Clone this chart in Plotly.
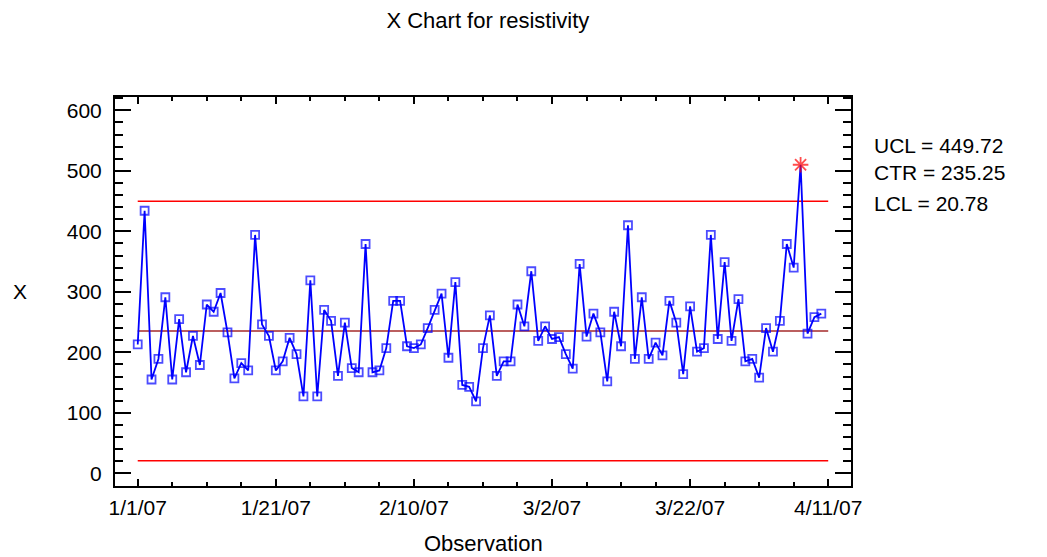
import pandas as pd
import plotly.graph_objects as go

start = pd.Timestamp("2007-01-01")
values = [213, 434, 155, 189, 291, 155, 255, 167, 227, 179, 279, 267, 298, 233, 157, 182, 170,
          394, 246, 227, 170, 185, 224, 197, 127, 319, 127, 270, 252, 161, 249, 174, 167,
          379, 167, 170, 207, 285, 285, 210, 207, 213, 240, 270, 297, 191, 316, 146, 143,
          119, 207, 261, 161, 185, 185, 279, 243, 334, 219, 243, 222, 225, 197, 173, 346, 226,
          264, 233, 152, 267, 210, 410, 189, 291, 189, 216, 195, 285, 249, 164, 276, 201, 207,
          394, 222, 349, 219, 288, 185, 189, 158, 240, 201, 252, 379, 340, 510, 231, 258, 264]
dates = pd.date_range(start, periods=len(values), freq="D")
UCL, CTR, LCL = 449.72, 235.25, 20.78
limit_end = pd.Timestamp("2007-04-11")
tick_labels = ["1/1/07", "1/21/07", "2/10/07", "3/2/07", "3/22/07", "4/11/07"]
tick_vals = pd.date_range(start, periods=len(tick_labels), freq="20D")

FONT = "Liberation Sans, Arial, sans-serif"

fig = go.Figure()
for val, col in [(UCL, "#FF0000"), (CTR, "#A52A2A"), (LCL, "#FF0000")]:
    fig.add_trace(go.Scatter(x=[dates[0], limit_end], y=[val, val], mode="lines",
                             line=dict(color=col, width=1.6), hoverinfo="skip", showlegend=False))

out = [v > UCL or v < LCL for v in values]
fig.add_trace(go.Scatter(
    x=dates, y=values, mode="lines+markers",
    line=dict(color="#0000FF", width=1.8),
    marker=dict(symbol=["asterisk-open" if o else "square-open" for o in out],
                size=[13 if o else 8 for o in out],
                color=["#FF0000" if o else "#0000FF" for o in out],
                line=dict(width=1.8, color=["#FF0000" if o else "#0000FF" for o in out])),
    showlegend=False))

x0 = start - pd.Timedelta(hours=3.29 * 24)
x1 = start + pd.Timedelta(hours=103.3 * 24)

fig.update_layout(
    width=1047, height=557,
    margin=dict(l=115, r=196, t=97, b=71),
    paper_bgcolor="white", plot_bgcolor="white",
    font=dict(family=FONT, size=21, color="black"),
    title=dict(text="X Chart for resistivity", x=0.466, xanchor="center", y=0.963, yanchor="middle",
               font=dict(size=22)),
    xaxis=dict(type="date", range=[x0, x1], tickmode="array", tickvals=tick_vals, ticktext=tick_labels,
               ticks="inside", ticklen=7, tickwidth=2, tickcolor="black",
               minor=dict(ticks="inside", dtick=5 * 86400000, tick0="2007-01-01", ticklen=4,
                          tickwidth=2, tickcolor="black"),
               showline=True, linewidth=2, linecolor="black", mirror="ticks",
               showgrid=False, zeroline=False, ticklabelstandoff=2),
    yaxis=dict(range=[-21, 622], tickmode="linear", tick0=0, dtick=100,
               ticks="inside", ticklen=16, tickwidth=2, tickcolor="black",
               minor=dict(ticks="inside", dtick=20, ticklen=8, tickwidth=2, tickcolor="black"),
               showline=True, linewidth=2, linecolor="black", mirror="ticks",
               showgrid=False, zeroline=False, ticklabelstandoff=7),
    annotations=[
        dict(text="Observation", xref="paper", yref="paper", x=0.5, y=-0.148, xanchor="center",
             yanchor="middle", showarrow=False, font=dict(size=22)),
        dict(text="X", xref="paper", yref="paper", x=-0.129, y=0.5, xanchor="center",
             yanchor="middle", showarrow=False, font=dict(size=21)),
        dict(text=f"UCL = {UCL:.2f}", xref="paper", yref="paper", x=1.029, y=0.875, xanchor="left",
             yanchor="middle", showarrow=False, font=dict(size=21)),
        dict(text=f"CTR = {CTR:.2f}", xref="paper", yref="paper", x=1.029, y=0.807, xanchor="left",
             yanchor="middle", showarrow=False, font=dict(size=21)),
        dict(text=f"LCL = {LCL:.2f}", xref="paper", yref="paper", x=1.029, y=0.725, xanchor="left",
             yanchor="middle", showarrow=False, font=dict(size=21)),
    ],
)

fig.write_html("out.html")
